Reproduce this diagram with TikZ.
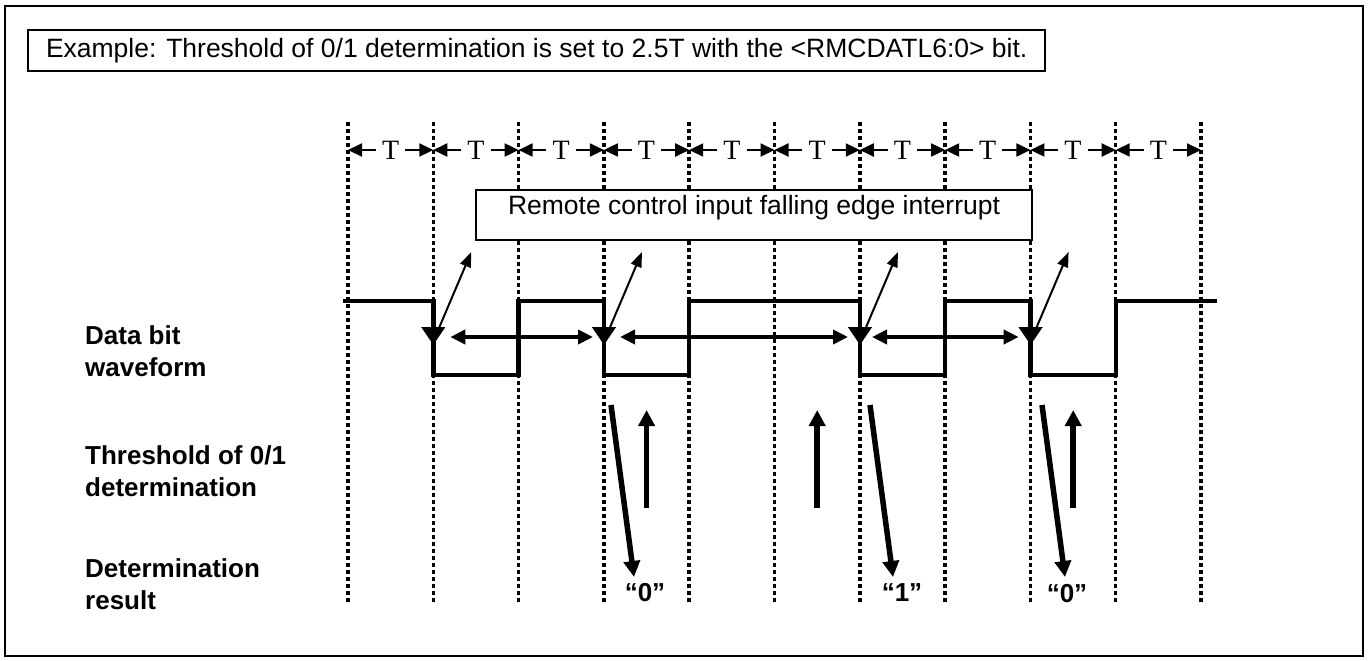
\documentclass[tikz,border=0pt]{standalone}
\usepackage{fontspec}
\setmainfont{Liberation Sans}
\newfontfamily\tfont{Liberation Serif}
\usetikzlibrary{arrows.meta}

\begin{document}
\begin{tikzpicture}[x=1pt, y=-1pt,
  gridline/.style={line width=3.5pt, dash pattern=on 3.5pt off 3.5pt},
  wave/.style={line width=4.5pt, line join=miter},
  edgearrow/.style={line width=4.5pt, -{Triangle[length=18pt, width=23pt]}},
  spanarrow/.style={line width=4pt, {Triangle[length=15pt, width=14pt]}-{Triangle[length=15pt, width=14pt]}},
  irqarrow/.style={line width=2pt, -{Triangle[length=15pt, width=11pt]}},
  bigarrow/.style={line width=5.5pt, -{Triangle[length=16pt, width=16pt]}},
  tarrow/.style={line width=2pt, -{Triangle[length=14pt, width=13pt]}},
  txt/.style={font=\fontsize{26.5}{32}\selectfont},
  lbl/.style={font=\bfseries\fontsize{26}{32}\selectfont, align=left, anchor=west, inner sep=0pt}]

% page and outer frame
\useasboundingbox (0,0) rectangle (1368,661);
\draw[line width=2pt] (5,6) rectangle (1363,656);

% caption box
\node[draw, line width=2pt, txt, anchor=west, inner xsep=18pt, inner ysep=0pt, minimum height=41pt] (caption) at (27,50.5)
  {Example: Threshold of 0/1 determination is set to 2.5T with the <RMCDATL6:0> bit.};

% Dotted time grid (11 lines, one per T)
\foreach \i in {0,...,10} {
  \coordinate (gt\i) at (348+85.3*\i, 122);
  \draw[gridline] (gt\i) -- ++(0,483);
}

% T spans between the grid lines
\foreach \i [evaluate=\i as \j using int(\i+1)] in {0,...,9} {
  \node[font=\tfont\fontsize{28}{28}\selectfont, inner xsep=6pt, inner ysep=0pt] (t\i) at (390.6+85.3*\i, 150) {T};
  \draw[tarrow] (t\i) -- (gt\i |- t\i);
  \draw[tarrow] (t\i) -- (gt\j |- t\i);
}

% Interrupt box (covers the grid)
\node[draw, fill=white, line width=2pt, anchor=north west, minimum width=556pt, minimum height=50pt, inner sep=0pt,
  label={[txt, yshift=7pt]center:Remote control input falling edge interrupt}] (irq) at (475,189) {};

% Data bit waveform
\draw[wave] (343,301) -- (433.3,301) -- (433.3,375) -- (518.6,375) -- (518.6,301) -- (604,301)
  -- (604,375) -- (689,375) -- (689,301) -- (860,301) -- (860,375) -- (945,375) -- (945,301)
  -- (1030.6,301) -- (1030.6,375) -- (1115.9,375) -- (1115.9,301) -- (1217,301);

% Falling edges: edge arrow + interrupt arrow
\foreach \x/\n in {433.3/1, 604/3, 860/6, 1030.6/8} {
  \coordinate (fall\n) at (\x,301);
  \coordinate (mid\n) at (\x,337);
  \draw[edgearrow] (fall\n) -- ([yshift=-8pt]mid\n);
  \draw[irqarrow] ([xshift=4pt,yshift=5pt]mid\n) -- ++(34,-80);
}

% Intervals between falling edges
\draw[spanarrow] ([xshift=17pt]mid1) -- ([xshift=-11pt]mid3);
\draw[spanarrow] ([xshift=16pt]mid3) -- ([xshift=-12pt]mid6);
\draw[spanarrow] ([xshift=12pt]mid6) -- ([xshift=-12pt]mid8);

% Threshold of 0/1 determination (2.5T after each falling edge)
\foreach \x in {646.6, 817.2, 1073.2} {
  \draw[bigarrow] (\x,508) -- (\x,410);
}

% Determination result
\node[font=\bfseries\fontsize{26}{32}\selectfont, inner sep=0pt] (res3) at (645,593) {``0''};
\node[font=\bfseries\fontsize{26}{32}\selectfont, inner sep=0pt] (res6) at (902,593) {``1''};
\node[font=\bfseries\fontsize{26}{32}\selectfont, inner sep=0pt] (res8) at (1067,594) {``0''};
\foreach \x/\n in {611/3, 870/6, 1042/8} {
  \coordinate (dn\n) at (\x,405);
  \draw[bigarrow] (dn\n) -- ++(23,172);
}

% Row labels
\node[lbl] (datalbl) at (85,351) {Data bit\\waveform};
\node[lbl] (thrlbl) at (85,471) {Threshold of 0/1\\determination};
\node[lbl] (reslbl) at (85,584) {Determination\\result};

\end{tikzpicture}
\end{document}
